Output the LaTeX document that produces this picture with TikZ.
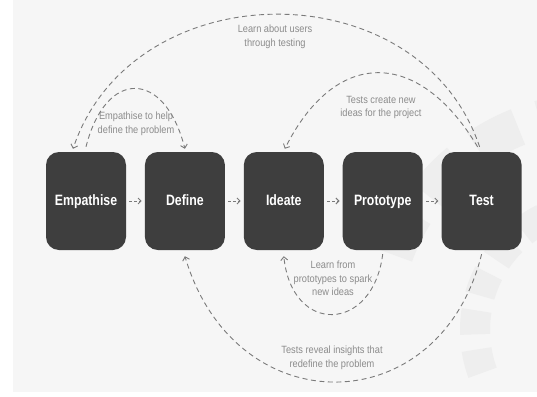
\documentclass[tikz,border=0pt]{standalone}
\usepackage{fontspec}
\newfontfamily\stagefont[FakeStretch=0.82]{Liberation Sans}
\newfontfamily\notefont[FakeStretch=0.88]{Liberation Sans}
\usetikzlibrary{positioning,arrows.meta}
\definecolor{bgcol}{HTML}{F6F6F6}
\definecolor{wmcol}{HTML}{EEEEEE}
\definecolor{boxcol}{HTML}{3E3E3E}
\definecolor{linecol}{HTML}{7A7A7A}
\definecolor{notecol}{HTML}{8C8C8C}
\begin{document}
\begin{tikzpicture}[x=1pt,y=-1pt,
    stage/.style={rectangle,rounded corners=13pt,fill=boxcol,text=white,
      minimum width=80pt,minimum height=98pt,inner sep=0pt,
      text height=11pt,text depth=3pt,
      font=\stagefont\bfseries\fontsize{15}{17}\selectfont},
    loop/.style={draw=linecol,line width=0.9pt,dash pattern=on 5pt off 3.5pt,
      -{Straight Barb[length=3.5pt,width=7pt]}},
    step arrow/.style={draw=linecol,line width=0.9pt,dash pattern=on 3pt off 2pt,
      -{Straight Barb[length=3pt,width=6pt]},shorten <=3pt,shorten >=3pt},
    note/.style={text=notecol,align=center,inner sep=0pt,
      font=\notefont\fontsize{10.5}{13.5}\selectfont}
  ]
  \useasboundingbox (0,0) rectangle (537,396);
  \fill[bgcol] (13,0) rectangle (537,392);

  % faint watermark
  \begin{scope}
    \clip (13,0) rectangle (537,392);
    \foreach \a in {200,218,236,254}
      \fill[wmcol] (600,330) ++(\a:200) arc[start angle=\a,end angle=\a+12,radius=200]
        -- ++(\a+12:38) arc[start angle=\a+12,end angle=\a,radius=238] -- cycle;
    \foreach \a in {160,178,196,214,232}
      \fill[wmcol] (600,330) ++(\a:110) arc[start angle=\a,end angle=\a+11,radius=110]
        -- ++(\a+11:30) arc[start angle=\a+11,end angle=\a,radius=140] -- cycle;
  \end{scope}

  % stages
  \node[stage] (emp) at (86,201) {Empathise};
  \node[stage,right=18.5pt of emp] (def) {Define};
  \node[stage,right=18.5pt of def] (ide) {Ideate};
  \node[stage,right=18.5pt of ide] (pro) {Prototype};
  \node[stage,right=18.5pt of pro] (tst) {Test};

  \draw[step arrow] (emp) -- (def);
  \draw[step arrow] (def) -- (ide);
  \draw[step arrow] (ide) -- (pro);
  \draw[step arrow] (pro) -- (tst);

  % loops above
  \draw[loop] ([xshift=-2pt,yshift=5pt]tst.north)
    .. controls +(-60,-178) and +(60,-178) .. ([xshift=-13pt,yshift=3pt]emp.north);
  \draw[loop] ([yshift=5pt]emp.north)
    .. controls +(20,-79) and +(-20,-79) .. ([yshift=3pt]def.north);
  \draw[loop] ([xshift=-4pt,yshift=5pt]tst.north)
    .. controls +(-60,-100) and +(50,-100) .. ([xshift=1pt,yshift=3pt]ide.north);

  % loops below
  \draw[loop] ([yshift=-4pt]pro.south)
    .. controls +(-10,79) and +(8,79) .. ([yshift=-6pt]ide.south);
  \draw[loop] ([yshift=-4pt]tst.south)
    .. controls +(-42,169) and +(50,169) .. ([yshift=-6pt]def.south);

  % notes
  \node[note] (n1) at (275,37) {Learn about users\\through testing};
  \node[note] (n2) at (136,124) {Empathise to help\\define the problem};
  \node[note] (n3) at (381,107.5) {Tests create new\\ideas for the project};
  \node[note] (n4) at (333,278.5) {Learn from\\prototypes to spark\\new ideas};
  \node[note] (n5) at (332,358) {Tests reveal insights that\\redefine the problem};
\end{tikzpicture}
\end{document}
